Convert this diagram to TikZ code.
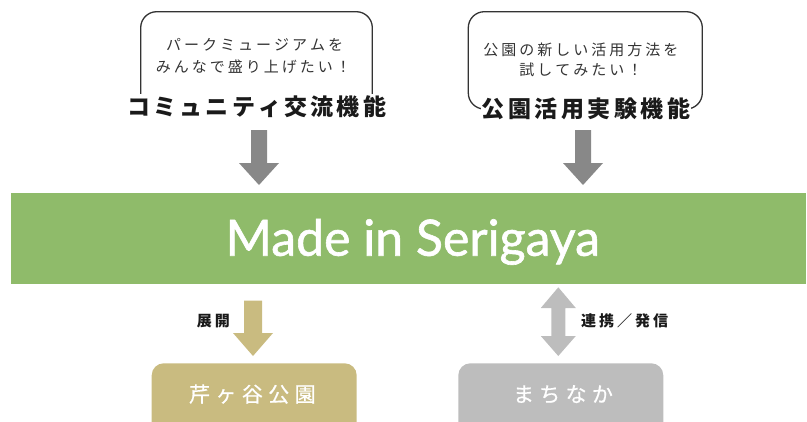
\documentclass[tikz,border=0pt]{standalone}
\usepackage{fontspec}
\setmainfont{Noto Sans CJK JP}
\newfontfamily\latinfont[FakeBold=1.2]{Lato}
\newfontfamily\boxfont[FakeBold=0.6]{Noto Sans CJK JP}
\definecolor{barGreen}{HTML}{8FBB6A}
\definecolor{darkArrow}{HTML}{888888}
\definecolor{tanC}{HTML}{C9BB80}
\definecolor{lightG}{HTML}{BDBDBD}
\definecolor{bubbleLine}{HTML}{333333}
\definecolor{bubbleText}{HTML}{333333}
\definecolor{titleText}{HTML}{1A1A1A}
\newdimen\spcamt
\def\spc#1#2{\spcamt=#1\relax\spcfirst#2\relax}
\def\spcfirst#1{#1\spcloop}
\def\spcloop#1{\ifx#1\relax\else\kern\spcamt#1\expandafter\spcloop\fi}
\begin{document}
\begin{tikzpicture}[x=1pt,y=-1pt,
  bubble/.style={draw=bubbleLine, line width=1.3pt, rounded corners=16pt, rectangle, inner sep=0pt},
  bubbletext/.style={text=bubbleText, font=\fontsize{15}{15}\selectfont, text height=13.2pt, text depth=1.8pt, inner sep=0pt},
  titlenode/.style={fill=white, text=titleText, font=\bfseries\fontsize{23}{23}\selectfont, text height=20.24pt, text depth=2.76pt, inner xsep=1pt, inner ysep=1pt},
  labelnode/.style={text=titleText, font=\bfseries\fontsize{15}{15}\selectfont, text height=13.2pt, text depth=1.8pt, inner sep=0pt},
  boxnode/.style={rectangle, rounded corners=12pt, inner sep=0pt, minimum width=205pt, minimum height=80pt},
  boxtext/.style={text=white, font=\boxfont\fontsize{21}{21}\selectfont, text height=18.5pt, text depth=2.5pt, inner sep=0pt},
]
\clip (0,0) rectangle (807,421);
% speech bubbles
\node[bubble, minimum width=231.6pt, minimum height=97.3pt] (bubbleL) at (256.5,60.35) {};
\node[bubble, minimum width=234pt, minimum height=97.3pt] (bubbleR) at (585.3,60.35) {};
\node[bubbletext] (bL1) at (254.7,45) {\spc{3pt}{パークミュージアムを}};
\node[bubbletext] (bL2) at (253.3,66.7) {\spc{3pt}{みんなで盛り上げたい！}};
\node[bubbletext] (bR1) at (580.8,50) {\spc{3pt}{公園の新しい活用方法を}};
\node[bubbletext] (bR2) at (580.8,70) {\spc{3pt}{試してみたい！}};
% titles
\node[titlenode] (titleL) at (256.7,106.7) {\spc{3.2pt}{コミュニティ交流機能}};
\node[titlenode] (titleR) at (585.9,109) {\spc{3.5pt}{公園活用実験機能}};
% arrows down to the bar
\fill[darkArrow, shift={(259,130)}] (-8,0) -- (8,0) -- (8,33) -- (20,33) -- (0,55) -- (-20,33) -- (-8,33) -- cycle;
\fill[darkArrow, shift={(583,130)}] (-8,0) -- (8,0) -- (8,33) -- (20,33) -- (0,55) -- (-20,33) -- (-8,33) -- cycle;
% main bar
\node[fill=barGreen, rectangle, inner sep=0pt, minimum width=795pt, minimum height=91.3pt] (bar) at (408.5,238.35) {};
\node[anchor=base, text=white, inner sep=0pt, font=\latinfont\fontsize{50}{50}\selectfont] (brand) at (412.7,255.7) {Made in Serigaya};
% lower arrows
\fill[tanC, shift={(253,300.7)}] (-9,0) -- (9,0) -- (9,32.3) -- (20,32.3) -- (0,55.3) -- (-20,32.3) -- (-9,32.3) -- cycle;
\fill[lightG, shift={(558.3,287.3)}] (0,0) -- (17.5,20.7) -- (7,20.7) -- (7,48.7) -- (17.5,48.7) -- (0,68.7) -- (-17.5,48.7) -- (-7,48.7) -- (-7,20.7) -- (-17.5,20.7) -- cycle;
\node[labelnode] (lblDev) at (213.3,321) {\spc{3pt}{展開}};
\node[labelnode] (lblLink) at (624.5,321) {\spc{3pt}{連携／発信}};
% bottom boxes
\node[boxnode, fill=tanC] (park) at (254.2,403.3) {};
\node[boxnode, fill=lightG] (town) at (560.8,403.3) {};
\node[boxtext] (parkT) at (252.4,394) {\spc{5.4pt}{芹ヶ谷公園}};
\node[boxtext] (townT) at (563,394) {\spc{5.3pt}{まちなか}};
\end{tikzpicture}
\end{document}
